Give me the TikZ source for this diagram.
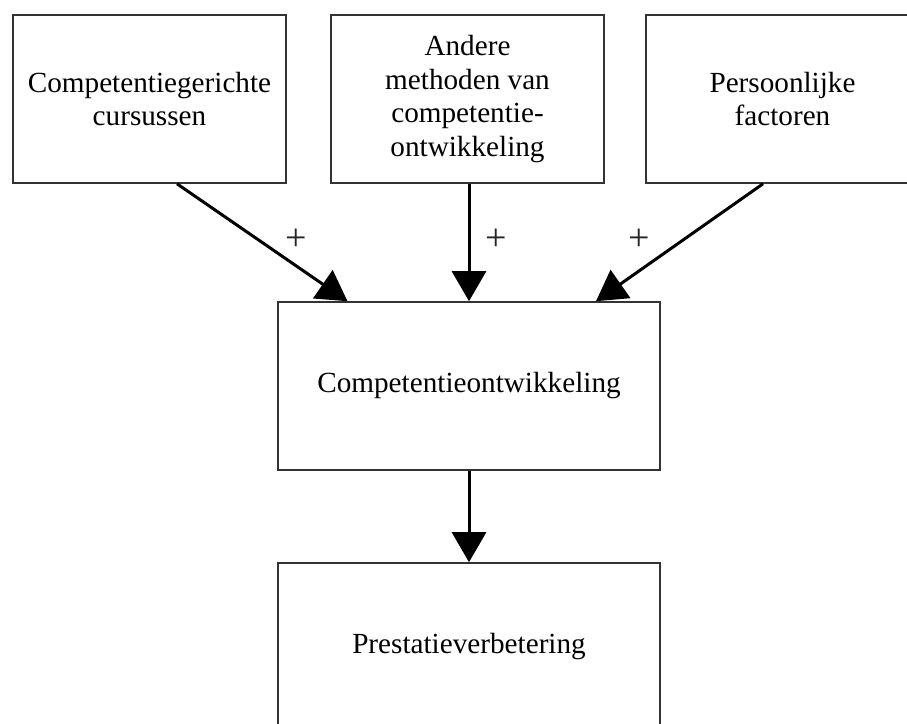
\documentclass[tikz,border=0pt]{standalone}
\usepackage{fontspec}
\setmainfont{Liberation Serif}
\usetikzlibrary{arrows.meta}

\definecolor{boxline}{HTML}{333333}

\tikzset{
  box/.style={draw=boxline, line width=1.6pt, fill=white,
              minimum width=273pt, minimum height=168pt, inner sep=0pt,
              align=center, font=\fontsize{29.2}{33.4}\selectfont},
  wide/.style={minimum width=382pt},
  flow/.style={line width=3pt, -{Triangle[length=30pt, width=34pt]}},
  sign/.style={font=\fontsize{38}{40}\selectfont, inner sep=0pt, text=black!85}
}

\begin{document}
\begin{tikzpicture}[x=1pt, y=-1pt]
  \useasboundingbox (0,0) rectangle (907,723);
  \fill[white] (0,0) rectangle (907,723);
  \clip (0,0) rectangle (907,723);

  % input factors
  \node[box] (b1) at (149.5,99) {Competentiegerichte\\cursussen};
  \node[box] (b2) at (467.5,99) {Andere\\methoden van\\competentie-\\ontwikkeling};
  \node[box] (b3) at (782.5,99) {Persoonlijke\\factoren};

  % outcome chain
  \node[box, wide] (c) at (469,386) {Competentieontwikkeling};
  \node[box, wide] (p) at (469,647) {Prestatieverbetering};

  % influences on competence development
  \draw[flow] ([xshift=27.5pt]b1.south) -- ([xshift=-121.5pt]c.north);
  \draw[flow] ([xshift=1.5pt]b2.south) -- (c.north);
  \draw[flow] ([xshift=-19.5pt]b3.south) -- ([xshift=127pt]c.north);
  \draw[flow] (c.south) -- (p.north);

  % signs of the effects
  \node[sign] (s1) at (296,240) {+};
  \node[sign] (s2) at (496,240) {+};
  \node[sign] (s3) at (639,240) {+};
\end{tikzpicture}
\end{document}
